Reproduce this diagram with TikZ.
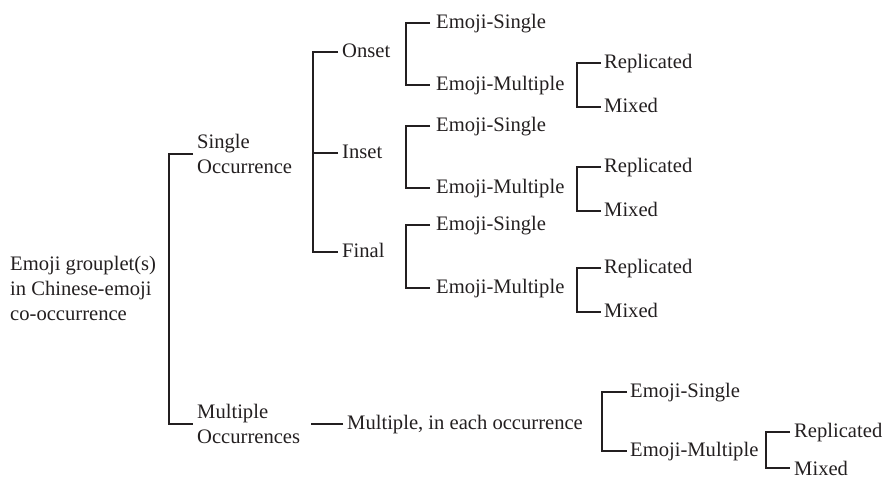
\documentclass[tikz,border=0pt]{standalone}
\usepackage{fontspec}
\setmainfont{Liberation Serif}
\definecolor{ink}{HTML}{231F20}
\begin{document}
\begin{tikzpicture}[x=1pt,y=-1pt,
  every node/.style={font=\fontsize{20.6}{25}\selectfont, text=ink},
  lbl/.style={anchor=west, inner ysep=0pt, inner xsep=4pt, text height=14pt, text depth=3pt},
  mlbl/.style={anchor=west, inner ysep=0pt, inner xsep=4pt, align=left},
  link/.style={draw=ink, line width=1.8pt}]
\useasboundingbox (0,0) rectangle (886,480);

% root
\node[mlbl, inner xsep=0pt] (root) at (10,288) {Emoji grouplet(s)\\in Chinese-emoji\\co-occurrence};

% level 1
\node[mlbl] (so) at (193,154) {Single\\Occurrence};
\node[mlbl] (mo) at (193,424) {Multiple\\Occurrences};
\draw[link] (so.west) -- ++(-24,0) |- (mo.west);

% level 2 (single occurrence)
\node[lbl] (onset) at (338,52) {Onset};
\node[lbl] (inset) at (338,153) {Inset};
\node[lbl] (final) at (338,252) {Final};
\draw[link] (onset.west) -- ++(-25,0) |- (final.west);
\draw[link] (inset.west) -- ++(-25,0);

% level 2 (multiple occurrences)
\node[lbl] (mie) at (343,424) {Multiple, in each occurrence};
\draw[link] (mie.west) -- ++(-32,0);

% level 3
\node[lbl, inner xsep=6pt] (os) at (430,23) {Emoji-Single};
\node[lbl, inner xsep=6pt] (om) at (430,85) {Emoji-Multiple};
\draw[link] (os.west) -- ++(-24,0) |- (om.west);

\node[lbl, inner xsep=6pt] (is) at (430,126) {Emoji-Single};
\node[lbl, inner xsep=6pt] (im) at (430,188) {Emoji-Multiple};
\draw[link] (is.west) -- ++(-24,0) |- (im.west);

\node[lbl, inner xsep=6pt] (fs) at (430,225) {Emoji-Single};
\node[lbl, inner xsep=6pt] (fm) at (430,288) {Emoji-Multiple};
\draw[link] (fs.west) -- ++(-24,0) |- (fm.west);

\node[lbl, inner xsep=3pt] (ms) at (627,392) {Emoji-Single};
\node[lbl, inner xsep=3pt] (mm) at (627,451) {Emoji-Multiple};
\draw[link] (ms.west) -- ++(-25,0) |- (mm.west);

% level 4
\node[lbl, inner xsep=3pt] (or) at (601,63) {Replicated};
\node[lbl, inner xsep=3pt] (ox) at (601,107) {Mixed};
\draw[link] (or.west) -- ++(-24,0) |- (ox.west);

\node[lbl, inner xsep=3pt] (ir) at (601,167) {Replicated};
\node[lbl, inner xsep=3pt] (ix) at (601,211) {Mixed};
\draw[link] (ir.west) -- ++(-24,0) |- (ix.west);

\node[lbl, inner xsep=3pt] (fr) at (601,268) {Replicated};
\node[lbl, inner xsep=3pt] (fx) at (601,312) {Mixed};
\draw[link] (fr.west) -- ++(-24,0) |- (fx.west);

\node[lbl, inner xsep=4pt] (mr) at (790,432) {Replicated};
\node[lbl, inner xsep=4pt, text depth=0pt] (mx) at (790,468) {Mixed};
\draw[link] (mr.west) -- ++(-24,0) |- (mx.west);
\end{tikzpicture}
\end{document}
